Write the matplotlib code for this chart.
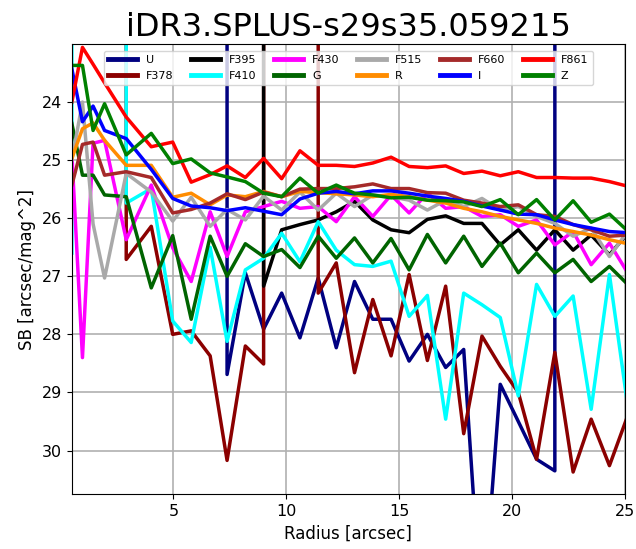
import numpy as np
import matplotlib
matplotlib.use("Agg")
import matplotlib.pyplot as plt

nan = np.nan
off = -1e4  # points that blow up above the top of the plot

title = "iDR3.SPLUS-s29s35.059215"

radius = [0.50, 0.97, 1.44, 1.95, 2.91, 4.02, 4.97, 5.79, 6.63, 7.38, 8.19, 9.00,
          9.80, 10.61, 11.42, 12.22, 13.03, 13.84, 14.65, 15.45, 16.26, 17.07,
          17.87, 18.68, 19.49, 20.29, 21.10, 21.91, 22.72, 23.52, 24.33, 25.14]

sb_U = [nan, nan, nan, nan, nan, nan, nan, nan, off, 28.69, 26.94, 27.91,
        27.29, 28.06, 27.03, 28.23, 27.09, 27.74, 27.74, 28.46, 28.0, 28.57,
        28.26, 33.0, 28.86, 29.5, 30.15, 30.35, off, nan, nan, nan]
sb_F378 = [nan, nan, nan, off, 26.71, 26.14, 28.0, 27.94, 28.37, 30.17, 28.2, 28.51,
           off, off, 27.29, 26.77, 28.66, 27.4, 28.37, 26.97, 28.45, 27.17,
           29.71, 28.03, 28.55, 29.0, 30.15, 28.31, 30.37, 29.46, 30.26, 29.4]
sb_F395 = [nan, nan, nan, nan, nan, nan, nan, nan, nan, nan, off, 27.17,
           26.2, 26.11, 26.03, 25.89, 25.71, 26.03, 26.2, 26.25, 26.02, 25.96,
           26.09, 26.09, 26.46, 26.2, 26.55, 26.2, 26.55, 26.29, 26.63, 26.26]
sb_F410 = [26.6, off, off, off, 25.74, 25.49, 27.77, 28.14, 26.5, 28.12, 26.89, 26.69,
           26.26, 26.75, 26.06, 26.55, 26.8, 26.83, 26.74, 27.69, 27.33, 29.46,
           27.29, 27.49, 27.71, 29.06, 27.14, 27.69, 27.34, 29.29, 26.97, 29.23]
sb_F430 = [24.9, 28.4, 24.71, 24.66, 26.37, 25.43, 26.51, 27.09, 25.89, 26.66, 25.89, 25.8,
           25.71, 25.83, 25.8, 26.06, 25.63, 25.97, 25.6, 25.91, 25.57, 25.83,
           25.8, 25.97, 25.94, 26.14, 26.03, 26.46, 26.23, 26.8, 26.43, 26.94]
sb_G = [24.37, 25.26, 25.26, 25.6, 25.63, 27.2, 26.3, 27.74, 26.31, 27.0, 26.44, 26.66,
        26.54, 26.85, 26.31, 26.69, 26.34, 26.77, 26.35, 26.89, 26.28, 26.77,
        26.31, 26.83, 26.43, 26.94, 26.6, 26.94, 26.71, 27.09, 26.83, 27.14]
sb_F515 = [25.0, 24.0, 26.1, 27.03, 25.23, 25.55, 26.05, 25.64, 26.14, 25.85, 26.03, 25.62,
           25.86, 25.55, 25.86, 25.57, 25.8, 25.6, 25.63, 25.69, 25.86, 25.69,
           25.8, 25.66, 25.86, 25.8, 25.97, 26.09, 26.31, 26.17, 26.66, 26.23]
sb_R = [24.97, 24.46, 24.36, 24.66, 25.09, 25.09, 25.64, 25.57, 25.77, 25.6, 25.63, 25.54,
        25.63, 25.54, 25.56, 25.58, 25.6, 25.63, 25.59, 25.63, 25.69, 25.74,
        25.83, 25.89, 25.97, 26.03, 26.09, 26.17, 26.23, 26.29, 26.37, 26.44]
sb_F660 = [25.43, 24.73, 24.69, 25.26, 25.2, 25.3, 25.91, 25.85, 25.74, 25.58, 25.68, 25.55,
           25.63, 25.5, 25.49, 25.49, 25.46, 25.41, 25.49, 25.49, 25.56, 25.57,
           25.69, 25.74, 25.8, 25.77, 25.94, 25.97, 26.11, 26.2, 26.31, 26.29]
sb_I = [23.43, 24.34, 24.07, 24.49, 24.63, 25.16, 25.66, 25.79, 25.82, 25.87, 25.82, 25.88,
        25.94, 25.67, 25.57, 25.54, 25.58, 25.53, 25.53, 25.57, 25.62, 25.66,
        25.71, 25.79, 25.86, 25.93, 25.94, 26.03, 26.11, 26.17, 26.23, 26.25]
sb_F861 = [24.0, 23.06, 23.35, 23.67, 24.26, 24.77, 24.69, 25.38, 25.25, 25.1, 25.3, 24.97,
           25.32, 24.84, 25.09, 25.09, 25.11, 25.05, 24.95, 25.11, 25.13, 25.1,
           25.23, 25.19, 25.27, 25.2, 25.3, 25.3, 25.31, 25.31, 25.37, 25.45]
sb_Z = [23.37, 23.37, 24.49, 24.03, 24.91, 24.54, 25.06, 24.98, 25.22, 25.29, 25.37, 25.57,
        25.63, 25.31, 25.57, 25.43, 25.57, 25.6, 25.65, 25.64, 25.69, 25.7,
        25.72, 25.8, 25.68, 25.94, 25.68, 26.03, 25.7, 26.07, 25.93, 26.22]

bands = ["U", "F378", "F395", "F410", "F430", "G", "F515", "R", "F660", "I", "F861", "Z"]
profiles = [sb_U, sb_F378, sb_F395, sb_F410, sb_F430, sb_G, sb_F515, sb_R, sb_F660, sb_I,
            sb_F861, sb_Z]
colors = ["navy", "darkred", "black", "cyan", "magenta", "darkgreen", "darkgray",
          "darkorange", "brown", "blue", "red", "green"]

fig = plt.figure(figsize=(6.36, 5.49), dpi=100)
ax = fig.add_axes([0.113, 0.100, 0.869, 0.820])

for band, sb, c in zip(bands, profiles, colors):
    ax.plot(radius, sb, color=c, lw=2.5, label=band)

ax.set_xlim(0.5, 25)
ax.set_ylim(30.75, 23.0)
ax.set_xticks([5, 10, 15, 20, 25])
ax.set_yticks([24, 25, 26, 27, 28, 29, 30])
ax.grid(True, color="#b0b0b0", lw=1.2)
ax.tick_params(labelsize=11.5)
ax.set_xlabel("Radius [arcsec]", fontsize=12)
ax.set_ylabel("SB [arcsec/mag^2]", fontsize=12)
ax.set_title(title, fontsize=23)

leg = ax.legend(loc="upper center", ncol=6, fontsize=8, handlelength=2.6,
                borderaxespad=0.6, columnspacing=1.6)
for line in leg.get_lines():
    line.set_linewidth(3.5)

fig.savefig("out.png", dpi=100)
